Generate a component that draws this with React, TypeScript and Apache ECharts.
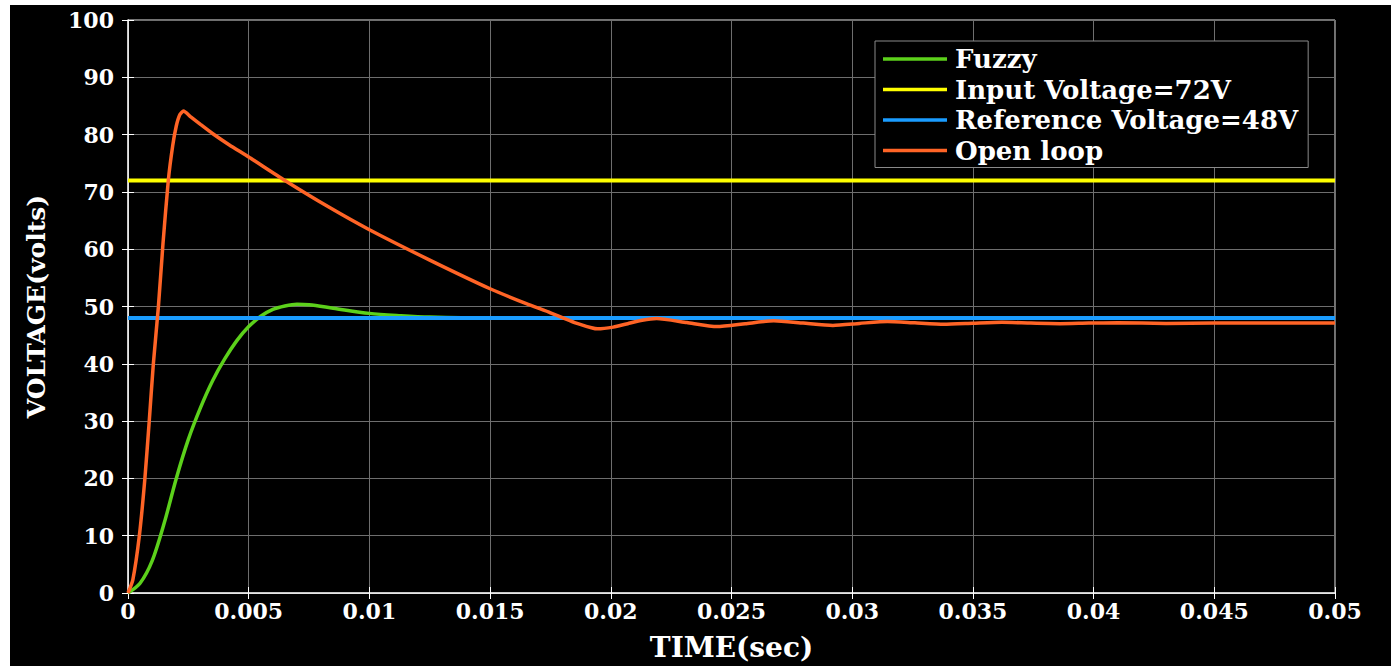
import React, { useEffect, useRef } from "react";
import * as echarts from "echarts";

const seriesNames = ["Fuzzy", "Input Voltage=72V", "Reference Voltage=48V", "Open loop"];
const seriesColors = ["#5cd11b", "#ffff00", "#1a9cff", "#ff6426"];

const fuzzyTime = [0, 0.0005, 0.001, 0.0015, 0.002, 0.0025, 0.003, 0.0035, 0.004, 0.0045, 0.005, 0.0055, 0.006, 0.0065, 0.007, 0.0075, 0.0085, 0.01, 0.0113, 0.0125, 0.015, 0.02, 0.03, 0.04, 0.05];
const fuzzyVolt = [0, 1.7, 5.6, 12.2, 20.0, 26.8, 32.3, 37.0, 40.8, 44.0, 46.5, 48.3, 49.5, 50.1, 50.4, 50.3, 49.7, 48.8, 48.4, 48.15, 48.0, 48, 48, 48, 48];

const openTime = [0, 0.0002, 0.00047, 0.0007, 0.00088, 0.00105, 0.00126, 0.00145, 0.00167, 0.00185, 0.002, 0.00215, 0.0023, 0.0026, 0.003, 0.0035, 0.0042, 0.005, 0.0065, 0.0083, 0.01, 0.0125, 0.015, 0.0165, 0.0175, 0.0185, 0.0192, 0.01945, 0.0201, 0.0207, 0.0213, 0.0219, 0.02315, 0.0244, 0.02557, 0.02675, 0.02797, 0.0292, 0.0303, 0.03146, 0.0326, 0.0338, 0.035, 0.0362, 0.0374, 0.0386, 0.0398, 0.041, 0.043, 0.045, 0.05];
const openVolt = [0, 2.3, 10, 20, 30, 40, 50, 61, 72, 78, 81.5, 83.5, 84.1, 83.1, 81.8, 80.2, 78.2, 76.1, 72, 67.4, 63.4, 58.1, 53.1, 50.5, 48.9, 47.2, 46.3, 46.1, 46.4, 47.0, 47.6, 47.9, 47.2, 46.5, 47.0, 47.5, 47.1, 46.7, 47.05, 47.4, 47.15, 46.9, 47.08, 47.25, 47.1, 47.0, 47.1, 47.15, 47.05, 47.1, 47.1];

const inputTime = [0, 0.05];
const inputVolt = [72, 72];
const refTime = [0, 0.05];
const refVolt = [48, 48];

const xTicks = { min: 0, max: 0.05, interval: 0.005 };
const yTicks = { min: 0, max: 100, interval: 10 };

const FONT = "DejaVu Serif";

export default function App() {
  const ref = useRef<HTMLDivElement>(null);
  useEffect(() => {
    if (!ref.current) return;
    const chart = echarts.init(ref.current, undefined, { renderer: "svg" });
    const zip = (t: number[], v: number[]) => t.map((x, i) => [x, v[i]]);
    const dataSets = [zip(fuzzyTime, fuzzyVolt), zip(inputTime, inputVolt), zip(refTime, refVolt), zip(openTime, openVolt)];
    const widths = [3.5, 4, 4, 3.5];
    const smoothing = [0.3, false, false, 0.2];
    const labelStyle = { color: "#ffffff", fontFamily: FONT, fontWeight: "bold" as const, fontSize: 22 };
    chart.setOption({
      animation: false,
      backgroundColor: "#000000",
      grid: {
        left: 118, top: 15, width: 1207, height: 573, show: true,
        borderColor: "#e6e6e6", borderWidth: 1, backgroundColor: "#000000",
        outerBoundsMode: "none", containLabel: false,
      },
      legend: {
        orient: "vertical",
        left: 865,
        top: 36,
        backgroundColor: "#000000",
        borderColor: "#8a8a8a",
        borderWidth: 1,
        padding: [5, 10, 4, 8],
        itemGap: 4.5,
        itemWidth: 64,
        itemHeight: 3.5,
        icon: "rect",
        textStyle: { color: "#ffffff", fontFamily: FONT, fontWeight: "bold", fontSize: 26, padding: [0, 0, 0, 3] },
        data: seriesNames,
      },
      xAxis: [
        {
          type: "value",
          min: xTicks.min,
          max: xTicks.max,
          interval: xTicks.interval,
          name: "TIME(sec)",
          nameLocation: "middle",
          nameGap: 40,
          nameTextStyle: { color: "#ffffff", fontFamily: FONT, fontWeight: "bold", fontSize: 28 },
          axisLine: { lineStyle: { color: "#e6e6e6", width: 1.5 } },
          axisTick: { inside: true, length: 6, lineStyle: { color: "#ffffff" } },
          axisLabel: { ...labelStyle, margin: 7, formatter: (v: number) => String(parseFloat(v.toFixed(4))) },
          splitLine: { show: true, lineStyle: { color: "#6e6e6e", width: 1 } },
        },
        {
          type: "value",
          position: "top",
          min: xTicks.min,
          max: xTicks.max,
          interval: xTicks.interval,
          axisLine: { lineStyle: { color: "#e6e6e6" } },
          axisTick: { inside: true, length: 6, lineStyle: { color: "#ffffff" } },
          axisLabel: { show: false },
          splitLine: { show: false },
        },
      ],
      yAxis: [
        {
          type: "value",
          min: yTicks.min,
          max: yTicks.max,
          interval: yTicks.interval,
          name: "VOLTAGE(volts)",
          nameLocation: "middle",
          nameGap: 79,
          nameTextStyle: { color: "#ffffff", fontFamily: FONT, fontWeight: "bold", fontSize: 25 },
          axisLine: { show: true, lineStyle: { color: "#e6e6e6", width: 1.5 } },
          axisTick: { show: true, inside: true, length: 6, lineStyle: { color: "#ffffff" } },
          axisLabel: { ...labelStyle, margin: 14 },
          splitLine: { show: true, lineStyle: { color: "#6e6e6e", width: 1 } },
        },
        {
          type: "value",
          position: "right",
          min: yTicks.min,
          max: yTicks.max,
          interval: yTicks.interval,
          axisLine: { show: true, lineStyle: { color: "#e6e6e6" } },
          axisTick: { show: true, inside: true, length: 6, lineStyle: { color: "#ffffff" } },
          axisLabel: { show: false },
          splitLine: { show: false },
        },
      ],
      series: seriesNames.map((name, i) => ({
        name,
        type: "line",
        xAxisIndex: 0,
        yAxisIndex: 0,
        data: dataSets[i],
        showSymbol: false,
        symbol: "none",
        smooth: smoothing[i],
        color: seriesColors[i],
        lineStyle: { color: seriesColors[i], width: widths[i] },
        z: 2 + i,
      })),
    });
    return () => chart.dispose();
  }, []);
  return (
    <div style={{ position: "fixed", left: 0, top: 0, width: 1391, height: 666, background: "#ffffff" }}>
      <div ref={ref} style={{ position: "absolute", left: 10, top: 5, width: 1381, height: 661, background: "#000000" }} />
    </div>
  );
}
